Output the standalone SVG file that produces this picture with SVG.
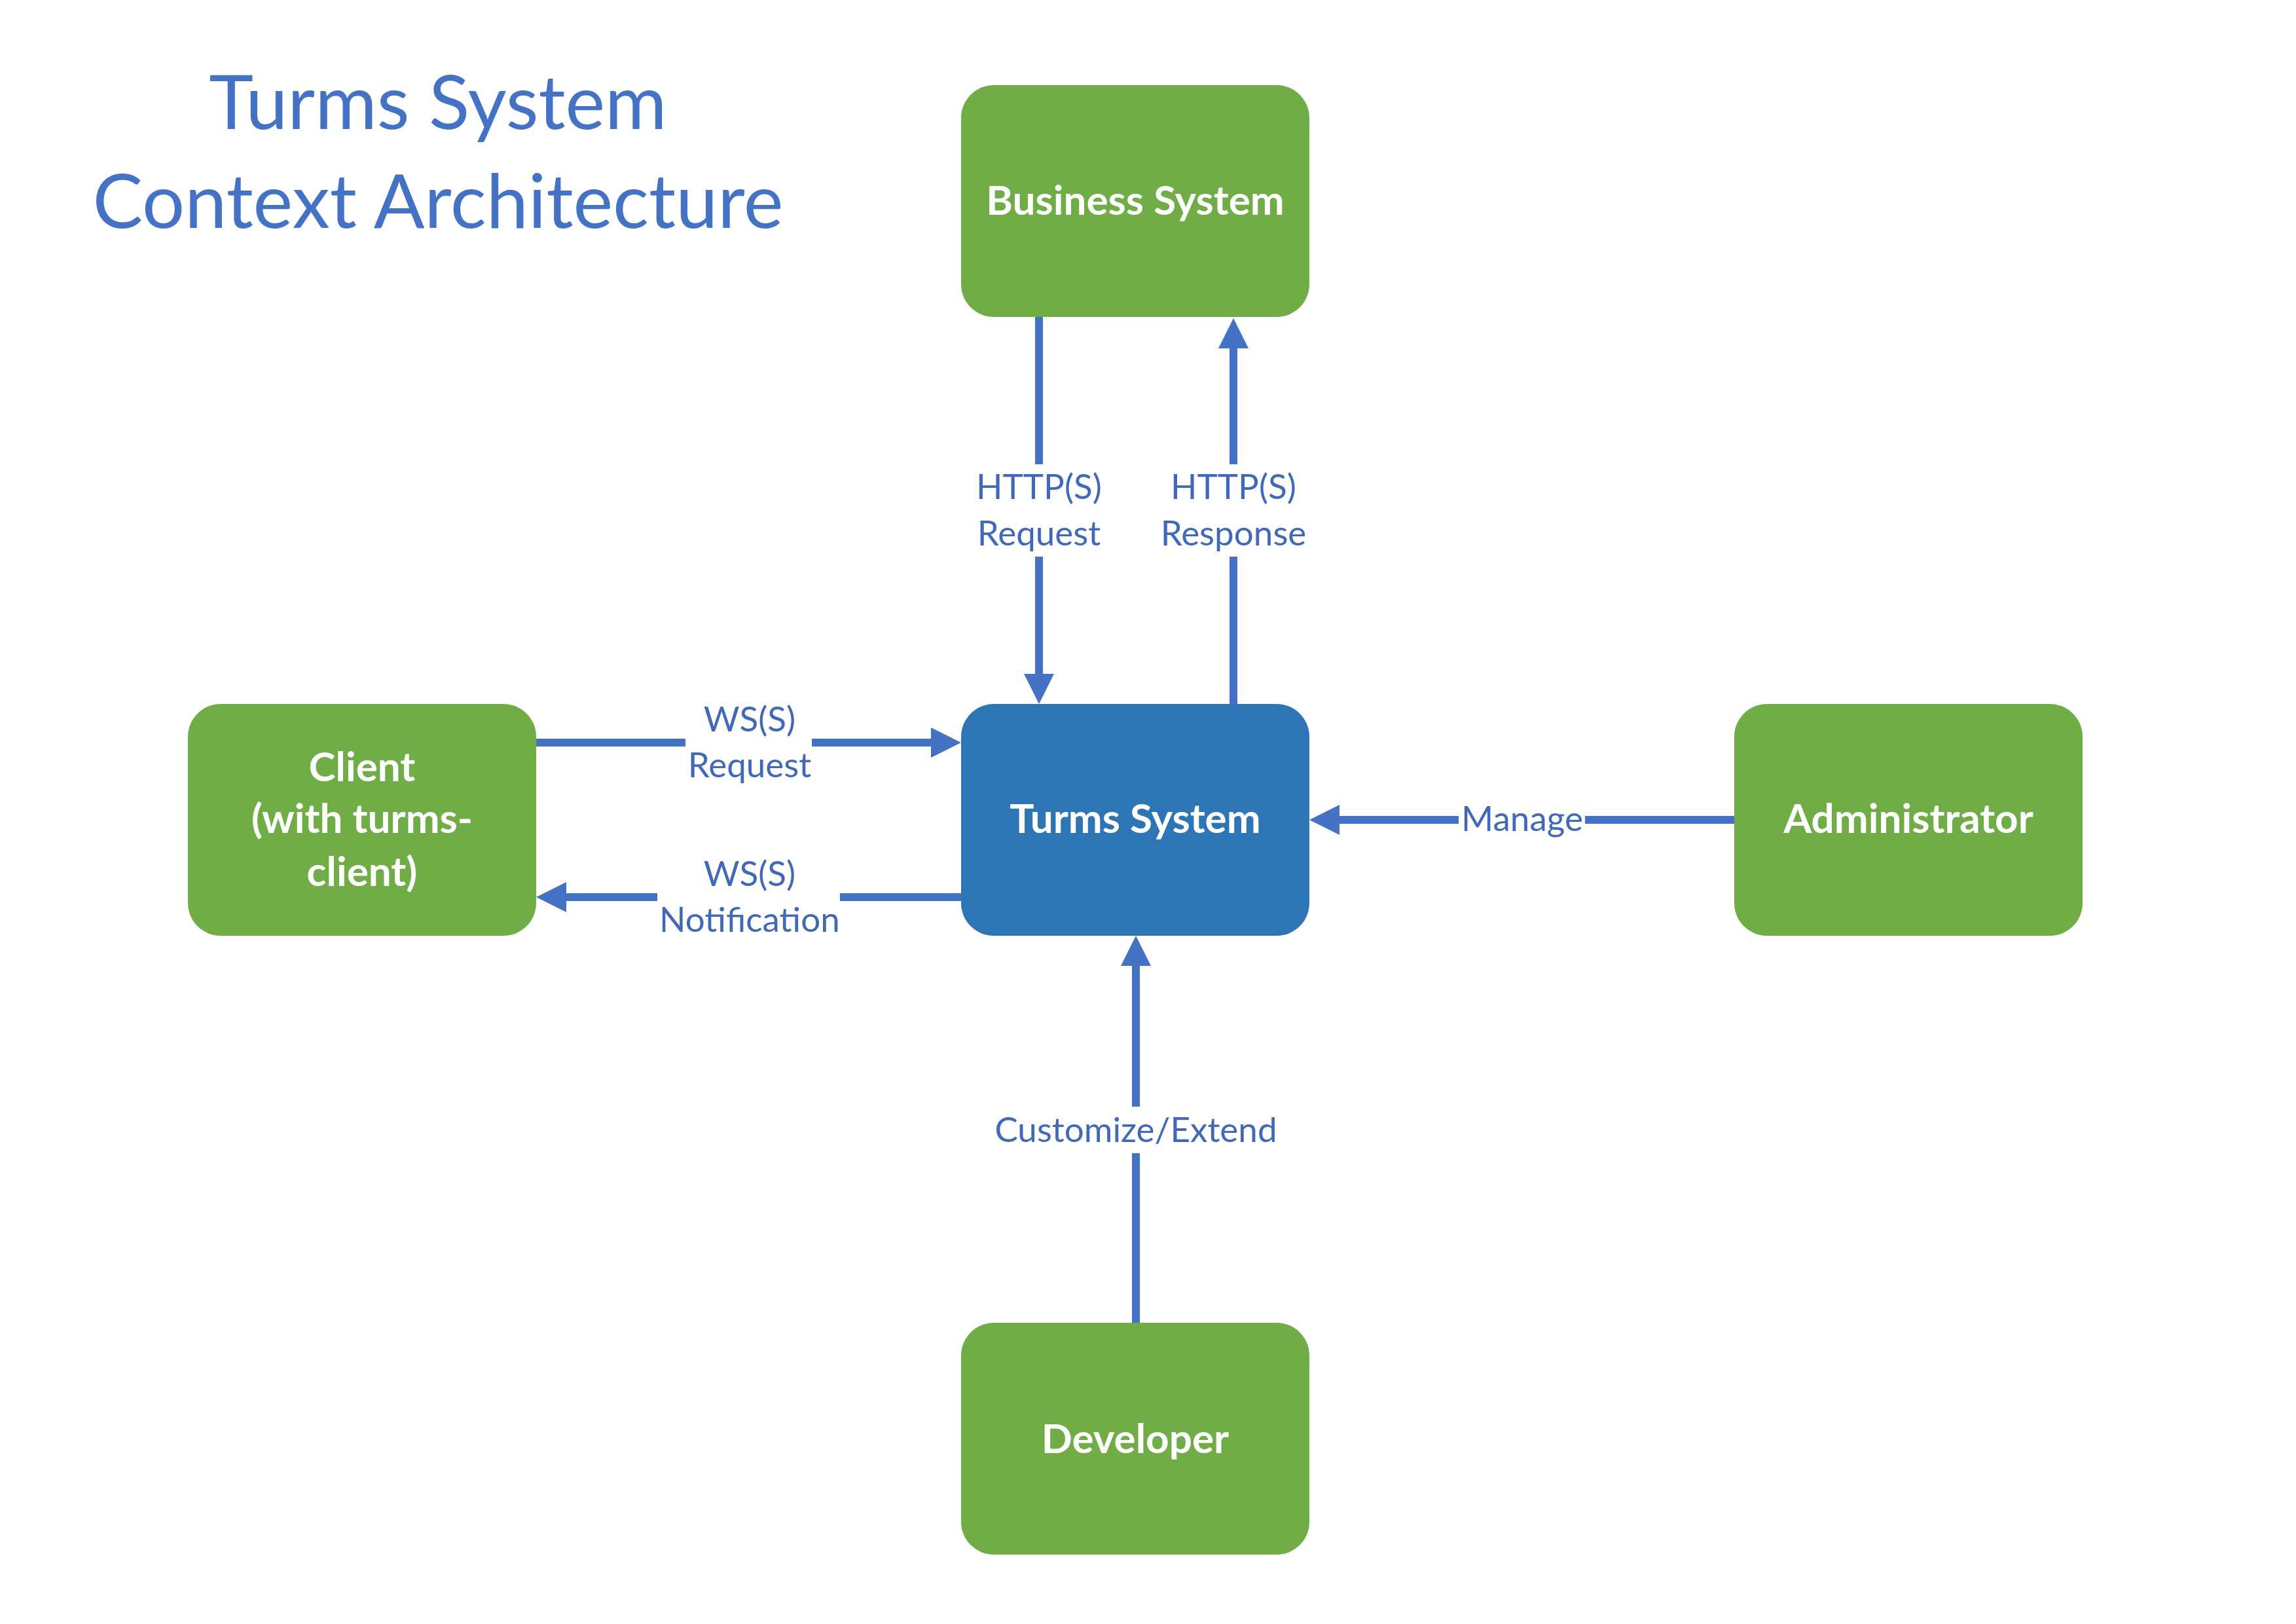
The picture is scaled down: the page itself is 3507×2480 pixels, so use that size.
<svg xmlns="http://www.w3.org/2000/svg" width="3507" height="2480" viewBox="0 0 3507 2480">
<style>
.bg{fill:#ffffff}
.green{fill:#70AD47}
.blue{fill:#2E75B6}
.nl{font-family:Lato,"Liberation Sans",sans-serif;font-weight:bold;font-size:62px;fill:#ffffff;text-anchor:middle}
.el{font-family:Lato,"Liberation Sans",sans-serif;font-size:53px;fill:#4169B8;text-anchor:middle}
.title{font-family:Lato,"Liberation Sans",sans-serif;font-size:115px;fill:#4472C4;text-anchor:middle}
.c{stroke:#4472C4;stroke-width:12;fill:none}
.ca{stroke:#4472C4;stroke-width:12;fill:none;marker-end:url(#ah)}
</style>
<defs>
<marker id="ah" markerUnits="userSpaceOnUse" markerWidth="46" markerHeight="46" refX="0" refY="23" orient="auto" viewBox="0 0 46 46">
<path d="M0,0 L46,23 L0,46 Z" fill="#4472C4"/>
</marker>
</defs>
<rect class="bg" x="0" y="0" width="3507" height="2480"/>
<g id="title">
<text class="title" x="669" y="197">Turms System</text>
<text class="title" x="669" y="348">Context Architecture</text>
</g>
<g id="connectors">
<line class="c" x1="1587" y1="484" x2="1587" y2="709"/>
<line class="ca" x1="1587" y1="850" x2="1587" y2="1029"/>
<line class="c" x1="1884" y1="1075" x2="1884" y2="850"/>
<line class="ca" x1="1884" y1="709" x2="1884" y2="532"/>
<line class="c" x1="819" y1="1134" x2="1047" y2="1134"/>
<line class="ca" x1="1240" y1="1134" x2="1422" y2="1134"/>
<line class="c" x1="1468" y1="1370" x2="1283" y2="1370"/>
<line class="ca" x1="1004" y1="1370" x2="865" y2="1370"/>
<line class="c" x1="2649" y1="1252" x2="2421" y2="1252"/>
<line class="ca" x1="2228" y1="1252" x2="2046" y2="1252"/>
<line class="c" x1="1735" y1="2020" x2="1735" y2="1761"/>
<line class="ca" x1="1735" y1="1690" x2="1735" y2="1475"/>
<text class="el" x="1587" y="762">HTTP(S)</text>
<text class="el" x="1587" y="833">Request</text>
<text class="el" x="1884" y="762">HTTP(S)</text>
<text class="el" x="1884" y="833">Response</text>
<text class="el" x="1145" y="1117">WS(S)</text>
<text class="el" x="1145" y="1187">Request</text>
<text class="el" x="1145" y="1353">WS(S)</text>
<text class="el" x="1145" y="1423">Notification</text>
<text class="el" x="2325" y="1269">Manage</text>
<text class="el" x="1735" y="1744">Customize/Extend</text>
</g>
<g id="business">
<rect class="green" x="1468" y="130" width="532" height="354" rx="50" ry="50"/>
<text class="nl" x="1734" y="328">Business System</text>
</g>
<g id="client">
<rect class="green" x="287" y="1075" width="532" height="354" rx="50" ry="50"/>
<text class="nl" x="553" y="1193">Client</text>
<text class="nl" x="553" y="1272">(with turms-</text>
<text class="nl" x="553" y="1353">client)</text>
</g>
<g id="turms">
<rect class="blue" x="1468" y="1075" width="532" height="354" rx="50" ry="50"/>
<text class="nl" x="1734" y="1272">Turms System</text>
</g>
<g id="administrator">
<rect class="green" x="2649" y="1075" width="532" height="354" rx="50" ry="50"/>
<text class="nl" x="2915" y="1272">Administrator</text>
</g>
<g id="developer">
<rect class="green" x="1468" y="2020" width="532" height="354" rx="50" ry="50"/>
<text class="nl" x="1734" y="2219">Developer</text>
</g>
</svg>
